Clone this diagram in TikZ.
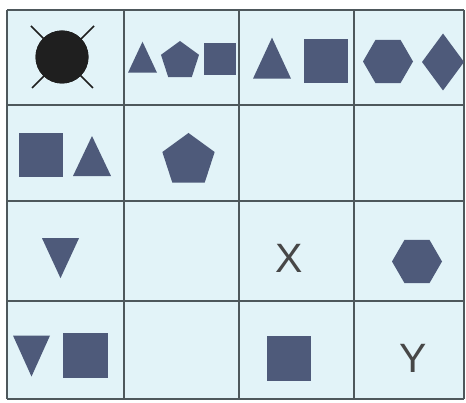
\documentclass[tikz,border=0pt]{standalone}
\usepackage{fontspec}
\setsansfont{Liberation Sans}
\usepackage{xcolor}
\usetikzlibrary{shapes.geometric,positioning}

\definecolor{cellblue}{HTML}{E2F3F8}
\definecolor{gridgray}{HTML}{4E585C}
\definecolor{slate}{HTML}{4E5A7A}
\definecolor{inkgray}{HTML}{474747}

\begin{document}
\begin{tikzpicture}[
    x=1pt, y=-1pt,
    shp/.style={fill=slate, draw=none, inner sep=0pt, outer sep=0pt},
    sq/.style={shp, rectangle, minimum size=#1},
    pent/.style={shp, regular polygon, regular polygon sides=5, minimum size=#1},
    hexa/.style={shp, regular polygon, regular polygon sides=6, minimum size=#1},
    tri/.style={shp, isosceles triangle, isosceles triangle stretches,
      shape border rotate=90},
    vtri/.style={shp, isosceles triangle, isosceles triangle stretches,
      shape border rotate=270},
    gridline/.style={draw=gridgray, line width=1.3pt},
    letter/.style={text=inkgray, font=\sffamily\fontsize{41}{41}\selectfont,
      inner sep=0pt},
  ]
    \useasboundingbox (0,0) rectangle (466,403);

    % --- grid ---
    \fill[cellblue] (7,10) rectangle (464,399);
    \foreach \x in {7,124,239,354,464}
      \draw[gridline] (\x,10) -- (\x,399);
    \foreach \y in {10,105,201,301,399}
      \draw[gridline] (7,\y) -- (464,\y);

    % --- row 1 ---
    \node[circle, fill=black!88, minimum size=53pt, inner sep=0pt] (sun) at (62,57) {};
    \draw[black!88, line width=1.6pt] (sun.center) ++(-31,-31) -- ++(62,62);
    \draw[black!88, line width=1.6pt] (sun.center) ++(32,-31) -- ++(-62,62);
    \node[circle, fill=black!88, minimum size=53pt, inner sep=0pt] at (sun) {};

    \node[tri, minimum width=29pt, minimum height=31pt] (tri-a) at (142.5,63.5) {};
    \node[pent=40pt] (pent-a) at (180,61) {};
    \node[sq=32pt] (sq-a) at (220,59) {};

    \node[tri, minimum width=38pt, minimum height=41pt] (tri-b) at (272,66.5) {};
    \node[sq=44pt] (sq-b) at (326,61) {};

    \node[hexa=50pt] (hex-a) at (388,61.5) {};
    \node[shp, diamond, minimum width=42pt, minimum height=57pt] (dia) at (443,62) {};

    % --- row 2 ---
    \node[sq=44pt] (sq-c) at (40.5,155.5) {};
    \node[tri, minimum width=38pt, minimum height=40pt] (tri-c) at (92,164) {};
    \node[pent=55pt] (pent-b) at (188.5,160.5) {};

    % --- row 3 ---
    \node[vtri, minimum width=37pt, minimum height=40pt] (vtri-a) at (60.5,250) {};
    \node[letter] (x-lbl) at (289,258) {X};
    \node[hexa=50pt] (hex-b) at (417,261.5) {};

    % --- row 4 ---
    \node[vtri, minimum width=37pt, minimum height=41pt] (vtri-b) at (31.5,347.5) {};
    \node[sq=45pt] (sq-d) at (85.5,355.5) {};
    \node[sq=44pt] (sq-e) at (289,358.5) {};
    \node[letter] (y-lbl) at (413,358) {Y};
  \end{tikzpicture}
\end{document}
